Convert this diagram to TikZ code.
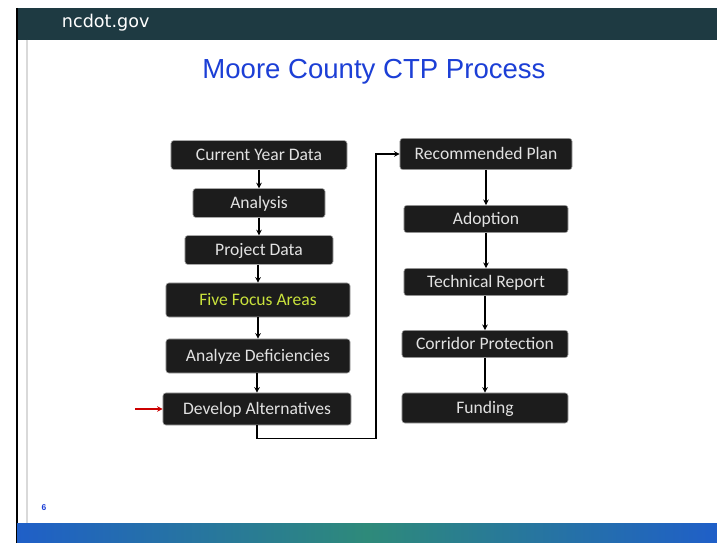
\documentclass[tikz,border=0pt]{standalone}
\usepackage{fontspec}
\setmainfont{Carlito}
\newfontfamily\arialfont{Liberation Sans}
\newfontfamily\sitefont{DejaVu Sans}
\usetikzlibrary{arrows.meta}
\definecolor{barteal}{HTML}{1E3A42}
\definecolor{titleblue}{HTML}{1C3FD6}
\definecolor{boxfill}{HTML}{1C1C1C}
\definecolor{boxtext}{HTML}{E2E2E2}
\definecolor{focusgreen}{HTML}{C9E23C}
\definecolor{footblue}{HTML}{1F5FC8}
\definecolor{footteal}{HTML}{2E8A7A}
\begin{document}
\begin{tikzpicture}[x=0.025cm, y=-0.025cm,
    stage/.style={draw=gray!70, fill=boxfill, rounded corners=2pt, text=boxtext,
      font=\fontsize{12.5}{14}\selectfont, minimum height=0.72cm, inner sep=0pt,
      text height=0.95em, text depth=0.1em},
    flow/.style={-{Stealth[length=4pt,width=4pt]}, thick, black}]
    \useasboundingbox (0,0) rectangle (717,543);

    % Slide frame
    \fill[white] (0,0) rectangle (717,543);
    \fill[barteal] (17,8) rectangle (717,40);
    \draw[black, line width=1.2pt] (17,8) -- (17,543);
    \draw[gray!30, line width=2pt] (27,40) -- (27,523);
    \node[text=white, font=\sitefont\fontsize{12.5}{14}\selectfont, anchor=west] (site) at (57,23) {ncdot.gov};

    % Title
    \node[text=titleblue, font=\arialfont\fontsize{19.6}{22}\selectfont] (title) at (374,72) {Moore County CTP Process};

    % Left column
    \node[stage, minimum width=4.4cm] (cyd) at (259,155) {Current Year Data};
    \node[stage, minimum width=3.3cm] (ana) at (259,203) {Analysis};
    \node[stage, minimum width=3.7cm] (pd) at (259,250) {Project Data};
    \node[stage, minimum width=4.6cm, minimum height=0.85cm, text=focusgreen] (ffa) at (258,300) {Five Focus Areas};
    \node[stage, minimum width=4.6cm, minimum height=0.85cm] (adf) at (258,356) {Analyze Deficiencies};
    \node[stage, minimum width=4.7cm, minimum height=0.8cm] (dev) at (257,409) {Develop Alternatives};

    % Right column
    \node[stage, minimum width=4.3cm, minimum height=0.78cm] (rec) at (486,154) {Recommended Plan};
    \node[stage, minimum width=4.1cm, minimum height=0.68cm] (adp) at (486,219) {Adoption};
    \node[stage, minimum width=4.1cm, minimum height=0.68cm] (tec) at (486,282) {Technical Report};
    \node[stage, minimum width=4.15cm, minimum height=0.68cm] (cor) at (485,344) {Corridor Protection};
    \node[stage, minimum width=4.15cm, minimum height=0.75cm] (fun) at (485,408) {Funding};

    % Arrows
    \draw[flow] (cyd) -- (ana);
    \draw[flow] (ana) -- (pd);
    \draw[flow] (pd.south -| ffa.north) -- (ffa);
    \draw[flow] (ffa) -- (adf);
    \draw[flow] (adf.south -| dev.north) -- (dev);
    \draw[flow] (dev.south) -- ++(0,13) -| (376,154) -- (rec.west);
    \draw[flow] (rec) -- (adp);
    \draw[flow] (adp) -- (tec);
    \draw[flow] (tec.south -| cor.north) -- (cor);
    \draw[flow] (cor) -- (fun);

    % Marker
    \coordinate (mark) at (135,409);
    \draw[-{Stealth[length=4pt,width=4pt]}, red!80!black, line width=1.6pt] (mark) -- (dev.west);

    % Footer
    \shade[left color=footblue, right color=footblue, middle color=footteal] (17,523) rectangle (717,543);
    \node[text=titleblue, font=\arialfont\bfseries\fontsize{6}{7}\selectfont] (page) at (44,508) {6};
\end{tikzpicture}
\end{document}
